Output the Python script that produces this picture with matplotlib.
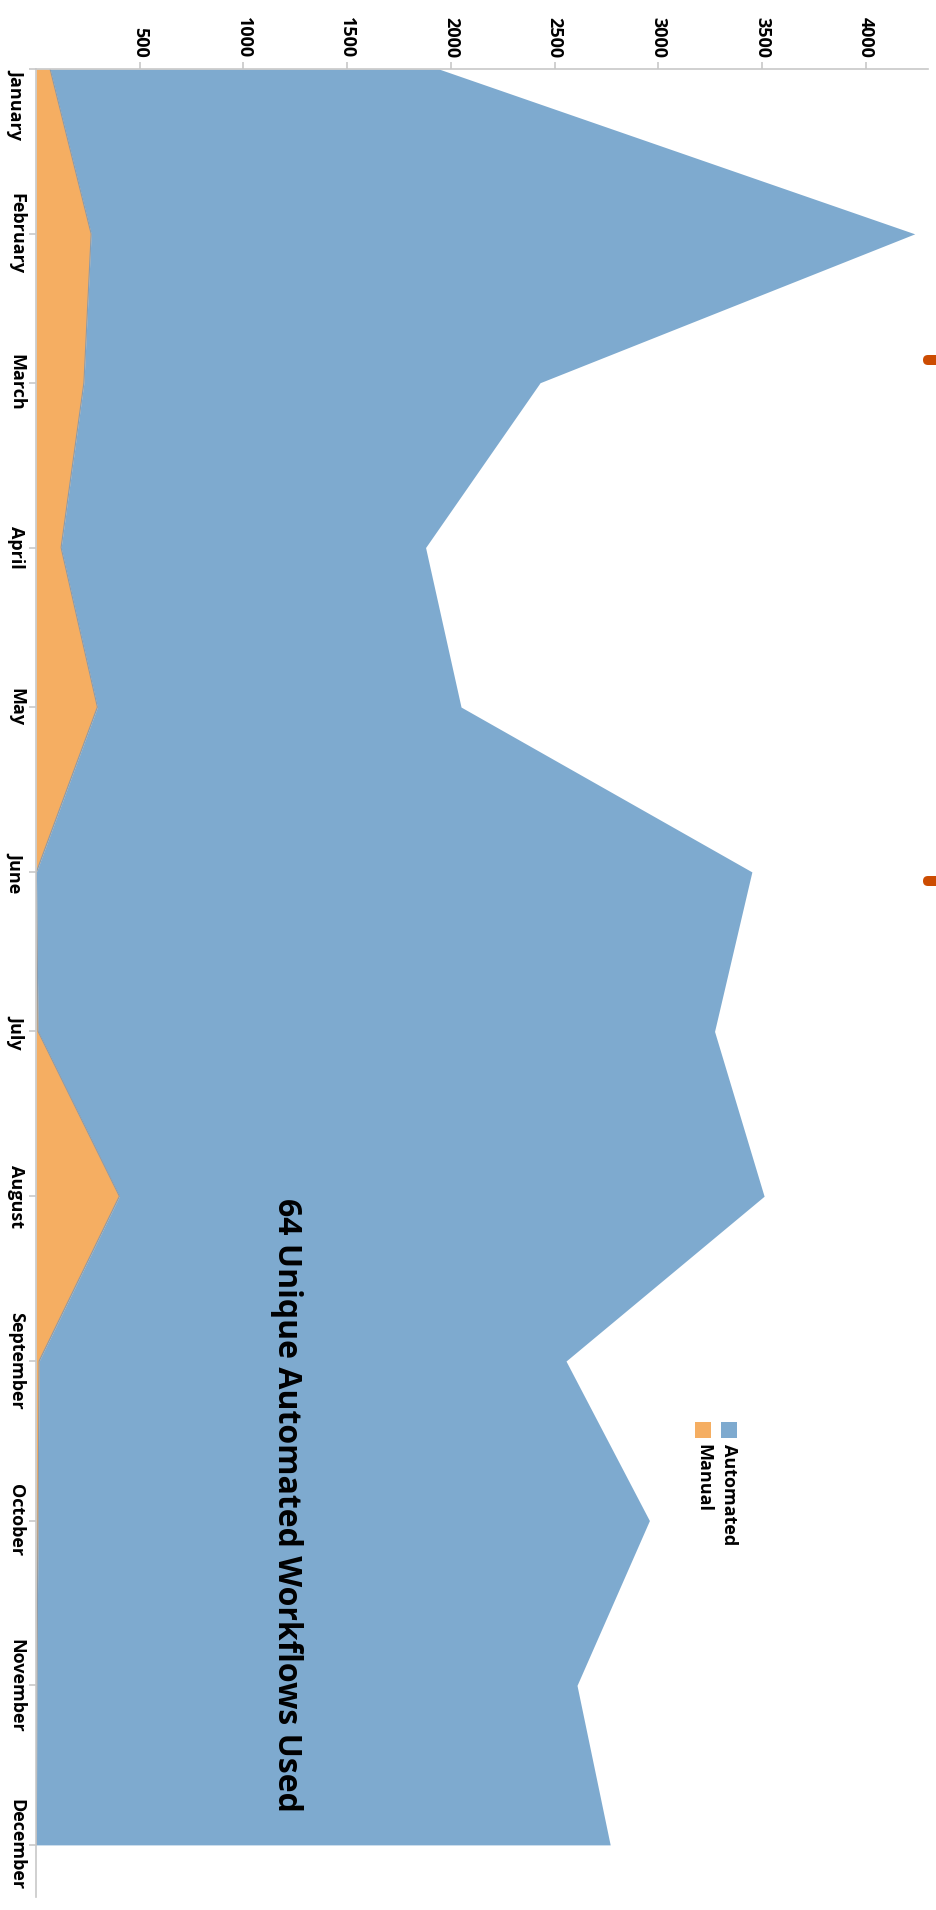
import matplotlib
matplotlib.use('Agg')
import matplotlib.pyplot as plt
from matplotlib.patches import FancyBboxPatch, Rectangle
import numpy as np

plt.rcParams['font.family'] = ['Open Sans', 'DejaVu Sans']

# data
months = ['January', 'February', 'March', 'April', 'May', 'June', 'July',
          'August', 'September', 'October', 'November', 'December']
manual = [68, 266, 231, 121, 296, 2, 10, 402, 15, 10, 4, 2]
automated = [1874, 3970, 2199, 1757, 1753, 3449, 3261, 3108, 2540, 2947, 2604, 2766]
value_ticks = [500, 1000, 1500, 2000, 2500, 3000, 3500, 4000]
series = ['Automated', 'Manual']
title = '64 Unique Automated Workflows Used'

blue = '#7eaacf'
orange = '#f5ae62'
grey = '#c8c8c8'

W, H = 937, 1910
fig = plt.figure(figsize=(W / 100, H / 100), dpi=100)
ax = fig.add_axes([36 / W, 1 - 1897 / H, 892 / W, 1828 / H])

# time axis: first day of each month, in days since 1 January
first_days = np.arange('2023-01', '2024-01', dtype='datetime64[M]').astype('datetime64[D]')
pos = (first_days - first_days[0]).astype(int)
man = np.array(manual)
tot = man + np.array(automated)

# stacked area, drawn sideways (months down, values across)
ax.fill_betweenx(pos, 0, man, color=orange, lw=0)
ax.fill_betweenx(pos, man, tot, color=blue, lw=0)
ax.plot(man, pos, color='#8d9aa8', lw=0.8)

ax.set_xlim(0, 4300)
ax.set_ylim(pos[-1] + 9.8, 0)

for s in ['right', 'bottom']:
    ax.spines[s].set_visible(False)
for s in ['top', 'left']:
    ax.spines[s].set_color(grey)
    ax.spines[s].set_linewidth(1.2)

ax.xaxis.tick_top()
ax.set_xticks(value_ticks)
ax.set_xticklabels([str(v) for v in value_ticks], rotation=-90,
                   fontsize=13, fontweight='bold')
ax.set_yticks(pos)
ax.set_yticklabels(months, rotation=-90, fontsize=13, fontweight='bold')
ax.tick_params(axis='both', length=5, color=grey, width=1.2, pad=3)
for i, lab in enumerate(ax.get_yticklabels()):
    lab.set_va('top' if i == 0 else 'center')

# title inside the plot
fig.text(286 / W, 1 - 1505 / H, title, rotation=-90, ha='center', va='center',
         fontsize=23, fontweight='bold')

# legend (rotated by hand)
for name, col, x in zip(series, [blue, orange], [721, 695]):
    fig.add_artist(Rectangle((x, H - 1438), 16, 16, transform=None,
                             color=col, lw=0))
    fig.text((x + 8) / W, 1 - 1444 / H, name, rotation=-90, ha='center',
             va='top', fontsize=13, fontweight='bold')

# clipped orange marks at the right edge
for y in [355, 876]:
    fig.add_artist(FancyBboxPatch((923, H - y - 10), 30, 10, transform=None,
                                  boxstyle='round,pad=0,rounding_size=5',
                                  color='#cc4c02', lw=0))

fig.savefig('out.png', dpi=100)
